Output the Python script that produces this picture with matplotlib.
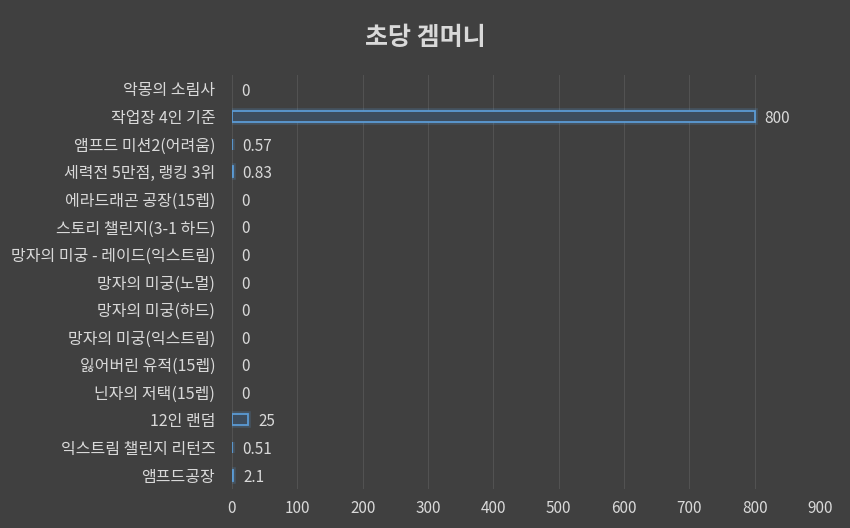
import matplotlib
matplotlib.use("Agg")
import matplotlib.pyplot as plt

plt.rcParams['font.family'] = ['Noto Sans CJK KR', 'DejaVu Sans']

categories = ["악몽의 소림사", "작업장 4인 기준", "앰프드 미션2(어려움)", "세력전 5만점, 랭킹 3위",
              "에라드래곤 공장(15렙)", "스토리 챌린지(3-1 하드)", "망자의 미궁 - 레이드(익스트림)",
              "망자의 미궁(노멀)", "망자의 미궁(하드)", "망자의 미궁(익스트림)", "잃어버린 유적(15렙)",
              "닌자의 저택(15렙)", "12인 랜덤", "익스트림 챌린지 리턴즈", "앰프드공장"]
values = [0, 800, 0.57, 0.83, 0, 0, 0, 0, 0, 0, 0, 0, 25, 0.51, 2.1]
labels = ["0", "800", "0.57", "0.83", "0", "0", "0", "0", "0", "0", "0", "0", "25", "0.51", "2.1"]
xticks = [0, 100, 200, 300, 400, 500, 600, 700, 800, 900]

bg = '#404040'
txt = '#d9d9d9'
fig = plt.figure(figsize=(8.5, 5.28), dpi=100, facecolor=bg)
ax = fig.add_axes([0.2729, 0.0742, 0.6918, 0.7834], facecolor=bg)

ypos = list(range(len(categories)))
nz_y = [y for y, v in zip(ypos, values) if v > 0]
nz_v = [v for v in values if v > 0]
# glow
ax.barh(nz_y, nz_v, height=0.4, left=0, color='none', edgecolor='#5b9bd5', linewidth=4, alpha=0.22, zorder=2)
ax.barh(nz_y, nz_v, height=0.4, left=0, color='#3d4d5e', edgecolor='#5b9bd5', linewidth=1.3, zorder=3)

for y, v, l in zip(ypos, values, labels):
    ax.annotate(l, xy=(v, y), xytext=(7, -1.5), textcoords='offset points',
                color=txt, fontsize=11, va='center', ha='left')

ax.set_yticks(ypos)
ax.set_yticklabels(categories, color=txt, fontsize=11.5)
for t in ax.get_yticklabels():
    t.set_y(t.get_position()[1])
ax.set_ylim(len(categories) - 0.5, -0.5)
ax.set_xlim(0, 900)
ax.set_xticks(xticks)
ax.set_xticklabels([str(t) for t in xticks], color=txt, fontsize=11)
ax.tick_params(axis='y', length=0, pad=12)
ax.tick_params(axis='x', length=0, pad=8)
ax.grid(axis='x', color='#525252', linewidth=0.8, zorder=0)
ax.set_axisbelow(True)
for s in ax.spines.values():
    s.set_visible(False)

fig.text(0.5, 0.928, "초당 겜머니", ha='center', va='center', color=txt, fontsize=18, fontweight='bold')

fig.savefig("out.png", dpi=100, facecolor=bg)
